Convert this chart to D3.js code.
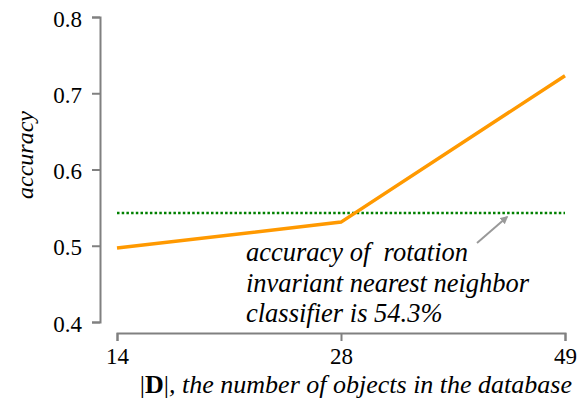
<!DOCTYPE html>
<html>
<head>
<meta charset="utf-8">
<script src="https://cdn.jsdelivr.net/npm/d3@7"></script>
<style>
  body { margin: 0; background: #fff; }
  svg text { font-family: "Times New Roman", Tinos, serif; fill: #000; }
</style>
</head>
<body>
<script>
// data
var sizes = ["14", "28", "49"];
var accuracy = [0.497, 0.531, 0.723];
var baseline = 0.543;
var yTicks = [0.4, 0.5, 0.6, 0.7, 0.8];
var noteLines = ["accuracy of  rotation", "invariant nearest neighbor", "classifier is 54.3%"];

var width = 580, height = 401;
var serif = "'Times New Roman', Tinos, serif";

var svg = d3.select("body").append("svg")
    .attr("width", width)
    .attr("height", height);

var x = d3.scalePoint().domain(sizes).range([117, 565]);
var y = d3.scaleLinear().domain([0.4, 0.8]).range([322, 17]);

/* y axis */
var yAxis = svg.append("g")
    .attr("transform", "translate(100,0)")
    .call(d3.axisLeft(y).tickValues(yTicks).tickFormat(d3.format(".1f"))
        .tickSize(8).tickPadding(10));
yAxis.attr("font-family", serif).attr("font-size", 23);
yAxis.selectAll("path, line").attr("stroke", "#808080").attr("stroke-width", 2);
yAxis.selectAll("text").attr("fill", "#000").attr("dy", "0.4em");

/* x axis */
var xAxis = svg.append("g")
    .attr("transform", "translate(0,333)")
    .call(d3.axisBottom(x).tickSize(8).tickPadding(7));
xAxis.attr("font-family", serif).attr("font-size", 23);
xAxis.selectAll("path, line").attr("stroke", "#808080").attr("stroke-width", 2);
xAxis.selectAll("text").attr("fill", "#000");

/* axis titles */
svg.append("text")
    .attr("transform", "translate(33,155) rotate(-90)")
    .attr("text-anchor", "middle")
    .attr("font-size", 24)
    .attr("font-style", "italic")
    .text("accuracy");

var xt = svg.append("text")
    .attr("x", 572)
    .attr("y", 393)
    .attr("text-anchor", "end")
    .attr("font-size", 26)
    .attr("font-style", "italic");
xt.append("tspan").attr("font-style", "normal").text("|");
xt.append("tspan").attr("font-style", "normal").attr("font-weight", "bold").text("D");
xt.append("tspan").attr("font-style", "normal").text("|");
xt.append("tspan").text(", the number of objects in the database");

/* baseline (dotted) */
svg.append("line")
    .attr("x1", x(sizes[0]))
    .attr("x2", x(sizes[sizes.length - 1]))
    .attr("y1", y(baseline))
    .attr("y2", y(baseline))
    .attr("stroke", "#008000")
    .attr("stroke-width", 2.5)
    .attr("stroke-dasharray", "2.5,2.2");

/* accuracy line */
var line = d3.line()
    .x(function(d, i) { return x(sizes[i]); })
    .y(function(d) { return y(d); });

svg.append("path")
    .datum(accuracy)
    .attr("d", line)
    .attr("fill", "none")
    .attr("stroke", "#FF9900")
    .attr("stroke-width", 3.5);

/* annotation */
svg.append("defs").append("marker")
    .attr("id", "head")
    .attr("viewBox", "0 0 10 10")
    .attr("refX", 8).attr("refY", 5)
    .attr("markerWidth", 4).attr("markerHeight", 4)
    .attr("orient", "auto")
    .append("path")
    .attr("d", "M0,0L10,5L0,10z")
    .attr("fill", "#999");

svg.append("line")
    .attr("x1", 477).attr("y1", 243)
    .attr("x2", 507).attr("y2", 217)
    .attr("stroke", "#999")
    .attr("stroke-width", 2)
    .attr("marker-end", "url(#head)");

svg.append("text")
    .attr("x", 246)
    .attr("y", 261)
    .attr("font-size", 26.5)
    .attr("font-style", "italic")
    .style("white-space", "pre")
    .selectAll("tspan")
    .data(noteLines)
    .enter().append("tspan")
    .attr("x", 246)
    .attr("dy", function(d, i) { return i === 0 ? 0 : 30.5; })
    .text(function(d) { return d; });
</script>
</body>
</html>
